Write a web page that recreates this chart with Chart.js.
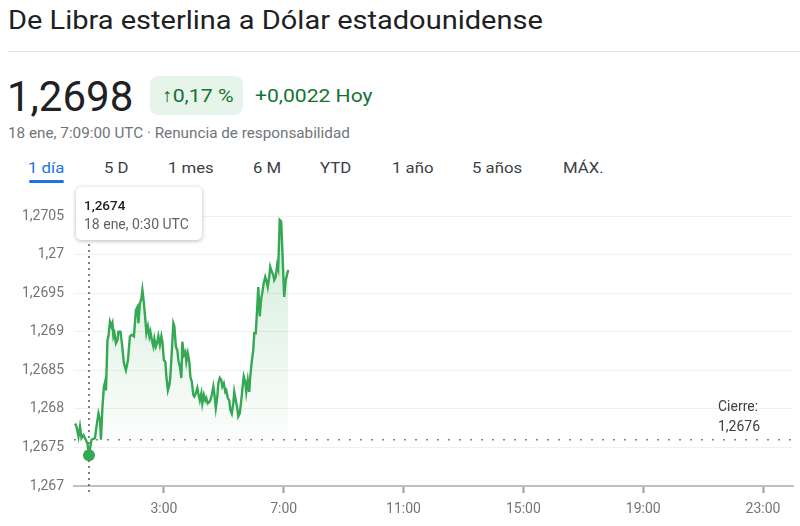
<!DOCTYPE html>
<html>
<head>
<meta charset="utf-8">
<script src="https://cdn.jsdelivr.net/npm/chart.js@4"></script>
<style>
  body { margin: 0; background: #fff; font-family: Roboto, Arial, sans-serif; }
  #page { position: relative; width: 800px; height: 526px; overflow: hidden; }
  .abs { position: absolute; white-space: nowrap; }
  .wide { transform-origin: left center; }
  #title { left: 8px; top: 5px; font-size: 26px; color: #202124; transform: scaleX(1.115); }
  #sep { left: 8px; top: 51px; width: 792px; height: 1px; background: #e3e3e3; }
  #price { left: 7px; top: 72px; font-size: 42px; color: #202124; }
  #badge { left: 150px; top: 76px; width: 93px; height: 39px; background: #e6f4ea; border-radius: 8px; }
  #badge span { position: absolute; left: 12px; top: 8px; font-size: 19px; color: #137333; transform: scaleX(1.12); }
  #change { left: 255px; top: 84px; font-size: 19px; color: #137333; transform: scaleX(1.11); }
  #sub { left: 8px; top: 125px; font-size: 14px; color: #70757a; transform: scaleX(1.09); }
  .tab { top: 159px; font-size: 15.5px; color: #3c4043; transform: scaleX(1.08); }
  .tab.on { color: #1a73e8; }
  #uline { left: 29px; top: 180px; width: 35px; height: 3px; background: #1a73e8; border-radius: 2px; }
  #wrap { left: 0; top: 185px; width: 800px; height: 341px; }
  #tip { left: 76px; top: 187px; width: 126px; height: 53px; background: #fff; border-radius: 5px;
         box-shadow: 0 1px 4px rgba(0,0,0,0.28); z-index: 5; }
  #tip .v { position: absolute; left: 8px; top: 10px; font-size: 13.5px; font-weight: 500; color: #202124; }
  #tip .d { position: absolute; left: 8px; top: 29px; font-size: 14px; color: #5f6368; }
</style>
</head>
<body>
<div id="page">
  <div id="title" class="abs wide">De Libra esterlina a Dólar estadounidense</div>
  <div id="sep" class="abs"></div>
  <div id="price" class="abs">1,2698</div>
  <div id="badge" class="abs"><span class="wide">↑0,17 %</span></div>
  <div id="change" class="abs wide">+0,0022 Hoy</div>
  <div id="sub" class="abs wide">18 ene, 7:09:00 UTC · Renuncia de responsabilidad</div>
  <div class="abs tab on wide" style="left:28px">1 día</div>
  <div class="abs tab wide" style="left:104px">5 D</div>
  <div class="abs tab wide" style="left:168px">1 mes</div>
  <div class="abs tab wide" style="left:253px">6 M</div>
  <div class="abs tab wide" style="left:320px">YTD</div>
  <div class="abs tab wide" style="left:392px">1 año</div>
  <div class="abs tab wide" style="left:472px">5 años</div>
  <div class="abs tab wide" style="left:563px">MÁX.</div>
  <div id="uline" class="abs"></div>
  <div id="tip" class="abs"><span class="v">1,2674</span><span class="d">18 ene, 0:30 UTC</span></div>
  <div id="wrap" class="abs"><canvas id="fx"></canvas></div>
</div>
<script>
// minutes since 0:00 UTC, 18 ene
const times = [2, 5, 9, 12, 15, 19, 22, 27, 30, 35, 42, 45, 49, 52, 54, 57, 60, 63, 64, 67,
  69, 72, 75, 77, 79, 81, 84, 87, 89, 93, 96, 100, 104, 108, 112, 116, 120, 124, 127, 129,
  132, 135, 137, 140, 143, 145, 148, 151, 153, 156, 159, 161, 164, 167, 169, 172, 175, 177, 180, 183,
  185, 188, 191, 193, 196, 199, 201, 204, 207, 209, 212, 215, 217, 220, 223, 225, 228, 231, 233, 236,
  239, 241, 244, 247, 249, 252, 255, 257, 260, 263, 265, 268, 271, 273, 276, 279, 281, 284, 287, 289,
  292, 295, 297, 300, 303, 305, 308, 311, 313, 316, 319, 321, 324, 327, 329, 332, 335, 337, 340, 343,
  345, 348, 351, 353, 356, 359, 361, 364, 367, 369, 372, 375, 377, 380, 383, 385, 388, 391, 393, 396,
  399, 401, 404, 407, 409, 412, 415, 417, 419, 421, 424, 429];
const rates = [1.26781, 1.26777, 1.26764, 1.26777, 1.26762, 1.26766, 1.26762, 1.26755, 1.2674, 1.2676,
  1.26762, 1.26777, 1.26794, 1.26786, 1.2676, 1.26803, 1.26829, 1.26837, 1.26824, 1.26889,
  1.26894, 1.26913, 1.26907, 1.26911, 1.26894, 1.26898, 1.26885, 1.26889, 1.269, 1.269,
  1.26885, 1.26859, 1.2685, 1.26863, 1.26894, 1.26896, 1.26894, 1.26928, 1.26932, 1.26911,
  1.26937, 1.26943, 1.26954, 1.26937, 1.26915, 1.26898, 1.26907, 1.26894, 1.269, 1.26889,
  1.26881, 1.26891, 1.26881, 1.26887, 1.26894, 1.26883, 1.26894, 1.26887, 1.26863, 1.26861,
  1.26842, 1.26824, 1.26831, 1.26842, 1.26876, 1.26911, 1.26907, 1.26881, 1.26876, 1.26863,
  1.26855, 1.2684, 1.26887, 1.2687, 1.26874, 1.26861, 1.26872, 1.26861, 1.26842, 1.26835,
  1.26818, 1.26816, 1.2682, 1.26827, 1.2682, 1.26811, 1.2682, 1.26807, 1.26818, 1.26811,
  1.26814, 1.26807, 1.26809, 1.26811, 1.26818, 1.26829, 1.2682, 1.26801, 1.26816, 1.26833,
  1.2684, 1.26837, 1.26829, 1.26833, 1.26822, 1.26824, 1.26814, 1.26811, 1.26799, 1.26794,
  1.26807, 1.26822, 1.26811, 1.26801, 1.2679, 1.26794, 1.26811, 1.26824, 1.26842, 1.26835,
  1.26822, 1.26837, 1.26822, 1.26842, 1.26861, 1.26876, 1.26898, 1.26898, 1.26932, 1.26958,
  1.2692, 1.26943, 1.2695, 1.26963, 1.26971, 1.26967, 1.26958, 1.26971, 1.26984, 1.26978,
  1.26974, 1.26967, 1.26971, 1.26987, 1.26982, 1.27045, 1.27043, 1.2701, 1.26976, 1.26945,
  1.26967, 1.2698];
const closeRate = 1.2676;
const hoverTime = 30, hoverRate = 1.2674;
const xTicks = [180, 420, 660, 900, 1140, 1380];
const yMin = 1.267, yMax = 1.2705, yStep = 0.0005;

const green = '#34a853';
const fmt = v => Number(v.toFixed(4)).toString().replace('.', ',');

const extras = {
  id: 'extras',
  beforeDatasetsDraw(chart) {
    const ctx = chart.ctx, a = chart.chartArea;
    const pt = chart.getDatasetMeta(2).data[0];
    ctx.save();
    ctx.strokeStyle = '#5f6368';
    ctx.lineWidth = 1.6;
    ctx.setLineDash([2, 4]);
    ctx.beginPath();
    ctx.moveTo(pt.x, a.top - 20);
    ctx.lineTo(pt.x, a.bottom + 8);
    ctx.stroke();
    ctx.restore();
  },
  afterDraw(chart) {
    const ctx = chart.ctx, a = chart.chartArea;
    const y = chart.scales.y.getPixelForValue(closeRate);
    ctx.save();
    ctx.fillStyle = '#3c4043';
    ctx.font = '14px Roboto';
    ctx.textAlign = 'left';
    ctx.textBaseline = 'middle';
    ctx.fillText('Cierre:', a.right - 75, y - 32);
    ctx.fillText(fmt(closeRate), a.right - 75, y - 12);
    ctx.restore();
  }
};

const ctx = document.getElementById('fx').getContext('2d');
new Chart(ctx, {
  type: 'line',
  data: {
    datasets: [{
      data: [{ x: 0, y: closeRate }, { x: 1440, y: closeRate }],
      borderColor: '#80868b',
      borderWidth: 1.5,
      borderDash: [2, 9],
      pointRadius: 0,
      fill: false,
      order: 3
    }, {
      data: times.map((t, i) => ({ x: t, y: rates[i] })),
      borderColor: green,
      borderWidth: 2.4,
      pointRadius: 0,
      tension: 0,
      fill: { value: closeRate },
      backgroundColor: (c) => {
        const a = c.chart.chartArea;
        if (!a) return 'rgba(52,168,83,0.1)';
        const yb = c.chart.scales.y.getPixelForValue(closeRate);
        const g = c.chart.ctx.createLinearGradient(0, a.top, 0, yb);
        g.addColorStop(0, 'rgba(52,168,83,0.22)');
        g.addColorStop(1, 'rgba(52,168,83,0.02)');
        return g;
      },
      order: 2
    }, {
      data: [{ x: hoverTime, y: hoverRate }],
      showLine: false,
      pointRadius: 6,
      pointBackgroundColor: green,
      pointBorderWidth: 0,
      order: 1
    }]
  },
  options: {
    responsive: true,
    maintainAspectRatio: false,
    animation: false,
    layout: { padding: { top: 31, right: 7, left: 0, bottom: 0 } },
    plugins: { legend: { display: false }, tooltip: { enabled: false } },
    scales: {
      x: {
        type: 'linear',
        min: 0,
        max: 1440,
        afterBuildTicks: (s) => { s.ticks = xTicks.map(v => ({ value: v })); },
        afterFit: (s) => { s.height = 40; },
        ticks: {
          callback: v => (v / 60) + ':00',
          color: '#70757a',
          font: { family: 'Roboto', size: 14 },
          maxRotation: 0,
          padding: 8
        },
        grid: { drawOnChartArea: false, drawTicks: true, tickLength: 7, tickColor: '#9aa0a6', tickWidth: 2 },
        border: { display: true, color: '#bdc1c6', width: 2 }
      },
      y: {
        min: yMin,
        max: yMax,
        afterFit: (s) => { s.width = 74; },
        ticks: {
          stepSize: yStep,
          callback: v => fmt(v),
          color: '#70757a',
          font: { family: 'Roboto', size: 14 },
          padding: 10
        },
        grid: {
          color: c => c.tick && Math.abs(c.tick.value - yMin) < 1e-7 ? 'rgba(0,0,0,0)' : '#eef0f2',
          drawTicks: false
        },
        border: { display: false }
      }
    }
  },
  plugins: [extras]
});
</script>
</body>
</html>
